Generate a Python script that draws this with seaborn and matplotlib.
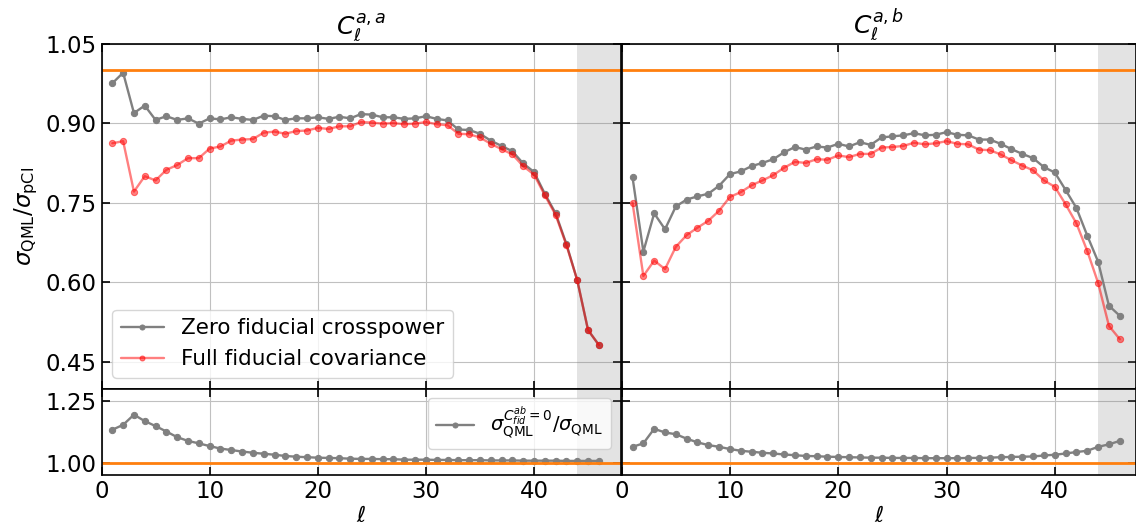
import numpy as np
import seaborn as sns
import matplotlib.pyplot as plt
from matplotlib.ticker import FormatStrFormatter

sns.set_style('whitegrid', {'axes.edgecolor': 'black', 'grid.color': '#c0c0c0',
                            'text.color': 'black', 'axes.labelcolor': 'black',
                            'xtick.color': 'black', 'ytick.color': 'black',
                            'xtick.direction': 'in', 'ytick.direction': 'in',
                            'xtick.bottom': True, 'xtick.top': True,
                            'ytick.left': True, 'ytick.right': True})
plt.rcParams['font.family'] = ['DejaVu Sans']
plt.rcParams['mathtext.fontset'] = 'dejavusans'

ell = np.arange(1, 47)

# C_l^{a,a}: zero fiducial crosspower / full fiducial covariance
aa_zero = [0.975, 0.995, 0.919, 0.933, 0.906, 0.913, 0.906, 0.909, 0.899, 0.909,
           0.907, 0.911, 0.908, 0.906, 0.914, 0.913, 0.906, 0.909, 0.909, 0.911,
           0.908, 0.912, 0.909, 0.917, 0.916, 0.911, 0.911, 0.908, 0.909, 0.913,
           0.908, 0.905, 0.888, 0.887, 0.880, 0.867, 0.857, 0.847, 0.824, 0.808,
           0.767, 0.730, 0.672, 0.604, 0.510, 0.482]
aa_full = [0.862, 0.866, 0.771, 0.800, 0.792, 0.812, 0.821, 0.834, 0.834, 0.852,
           0.856, 0.867, 0.869, 0.870, 0.882, 0.884, 0.880, 0.885, 0.886, 0.891,
           0.889, 0.894, 0.894, 0.902, 0.901, 0.899, 0.900, 0.898, 0.899, 0.902,
           0.898, 0.896, 0.880, 0.879, 0.873, 0.861, 0.851, 0.841, 0.819, 0.803,
           0.764, 0.727, 0.670, 0.604, 0.510, 0.482]
aa_ratio = [1.133, 1.153, 1.194, 1.168, 1.148, 1.126, 1.103, 1.088, 1.078, 1.067,
            1.057, 1.051, 1.045, 1.040, 1.036, 1.032, 1.027, 1.024, 1.022, 1.020,
            1.019, 1.018, 1.016, 1.015, 1.015, 1.014, 1.014, 1.012, 1.012, 1.012,
            1.011, 1.011, 1.010, 1.010, 1.010, 1.009, 1.009, 1.009, 1.008, 1.008,
            1.008, 1.008, 1.007, 1.007, 1.007, 1.007]

# C_l^{a,b}
ab_zero = [0.798, 0.658, 0.730, 0.700, 0.743, 0.756, 0.762, 0.767, 0.782, 0.804,
           0.809, 0.819, 0.825, 0.832, 0.845, 0.855, 0.850, 0.856, 0.854, 0.861,
           0.856, 0.864, 0.859, 0.873, 0.875, 0.877, 0.881, 0.877, 0.878, 0.883,
           0.878, 0.877, 0.869, 0.869, 0.861, 0.851, 0.842, 0.834, 0.817, 0.807,
           0.774, 0.740, 0.688, 0.639, 0.556, 0.537]
ab_full = [0.750, 0.612, 0.641, 0.625, 0.667, 0.689, 0.703, 0.716, 0.735, 0.761,
           0.770, 0.783, 0.792, 0.802, 0.816, 0.827, 0.825, 0.832, 0.831, 0.839,
           0.836, 0.842, 0.842, 0.854, 0.855, 0.857, 0.863, 0.860, 0.862, 0.866,
           0.861, 0.860, 0.850, 0.849, 0.841, 0.830, 0.820, 0.811, 0.792, 0.780,
           0.747, 0.711, 0.659, 0.599, 0.518, 0.493]
ab_ratio = [1.064, 1.078, 1.137, 1.122, 1.115, 1.097, 1.082, 1.071, 1.064, 1.055,
            1.048, 1.044, 1.040, 1.037, 1.033, 1.030, 1.027, 1.026, 1.024, 1.023,
            1.022, 1.021, 1.020, 1.020, 1.019, 1.019, 1.019, 1.018, 1.018, 1.018,
            1.018, 1.019, 1.019, 1.020, 1.022, 1.023, 1.024, 1.025, 1.029, 1.032,
            1.037, 1.043, 1.048, 1.064, 1.074, 1.088]

fig = plt.figure(figsize=(11.36, 5.29), dpi=100)
W, H = 1136, 529
def box(x0, y0, x1, y1):
    return [x0 / W, 1 - y1 / H, (x1 - x0) / W, (y1 - y0) / H]

ax_tl = fig.add_axes(box(101.5, 43.5, 620.5, 388.5))
ax_bl = fig.add_axes(box(101.5, 388.5, 620.5, 475))
ax_tr = fig.add_axes(box(621.7, 43.5, 1136, 388.5))
ax_br = fig.add_axes(box(621.7, 388.5, 1136, 475))

line_kw = dict(marker='o', markersize=4.5, linewidth=1.7)
panels = [(ax_tl, ax_bl, aa_zero, aa_full, aa_ratio, r'$C_\ell^{a,a}$', 48),
          (ax_tr, ax_br, ab_zero, ab_full, ab_ratio, r'$C_\ell^{a,b}$', 47.5)]

for i, (top, bot, zero, full, ratio, title, xmax) in enumerate(panels):
    sns.lineplot(x=ell, y=zero, ax=top, color='gray', markeredgecolor='gray',
                 label='Zero fiducial crosspower', **line_kw)
    sns.lineplot(x=ell, y=full, ax=top, color='red', alpha=0.5, markeredgecolor='red',
                 label='Full fiducial covariance', **line_kw)
    sns.lineplot(x=ell, y=ratio, ax=bot, color='gray', markeredgecolor='gray',
                 label=r'$\sigma_{\rm QML}^{C_{fid}^{ab}=0}/\sigma_{\rm QML}$', **line_kw)
    for ax in (top, bot):
        ax.axhline(1.0, color='tab:orange', linewidth=2)
        ax.axvspan(44, 50, color='gray', alpha=0.22, linewidth=0)
        ax.set_xlim(0, xmax)
        ax.set_xticks([0, 10, 20, 30, 40])
        ax.tick_params(length=6, width=1.2, labelsize=16.5, color='black')
        for s in ax.spines.values():
            s.set_linewidth(1.2)
    top.set_ylim(0.40, 1.05)
    top.set_yticks([0.45, 0.60, 0.75, 0.90, 1.05])
    top.yaxis.set_major_formatter(FormatStrFormatter('%.2f'))
    top.set_xticklabels([])
    top.set_xlabel('')
    top.set_title(title, fontsize=18, pad=6)
    bot.set_ylim(0.95, 1.30)
    bot.set_yticks([1.00, 1.25])
    bot.yaxis.set_major_formatter(FormatStrFormatter('%.2f'))
    bot.set_xlabel(r'$\ell$', fontsize=16, labelpad=2)
    if i == 0:
        top.set_ylabel(r'$\sigma_{\rm QML}/\sigma_{\rm pCl}$', fontsize=16.5)
        top.legend(loc='lower left', fontsize=15.5, frameon=True, markerscale=0.8)
        bot.legend(loc='upper right', fontsize=14, frameon=True, markerscale=0.8)
    else:
        top.set_yticklabels([])
        bot.set_yticklabels([])
        top.get_legend().remove()
        bot.get_legend().remove()
        top.set_ylabel('')

fig.savefig('out.png', dpi=100)
